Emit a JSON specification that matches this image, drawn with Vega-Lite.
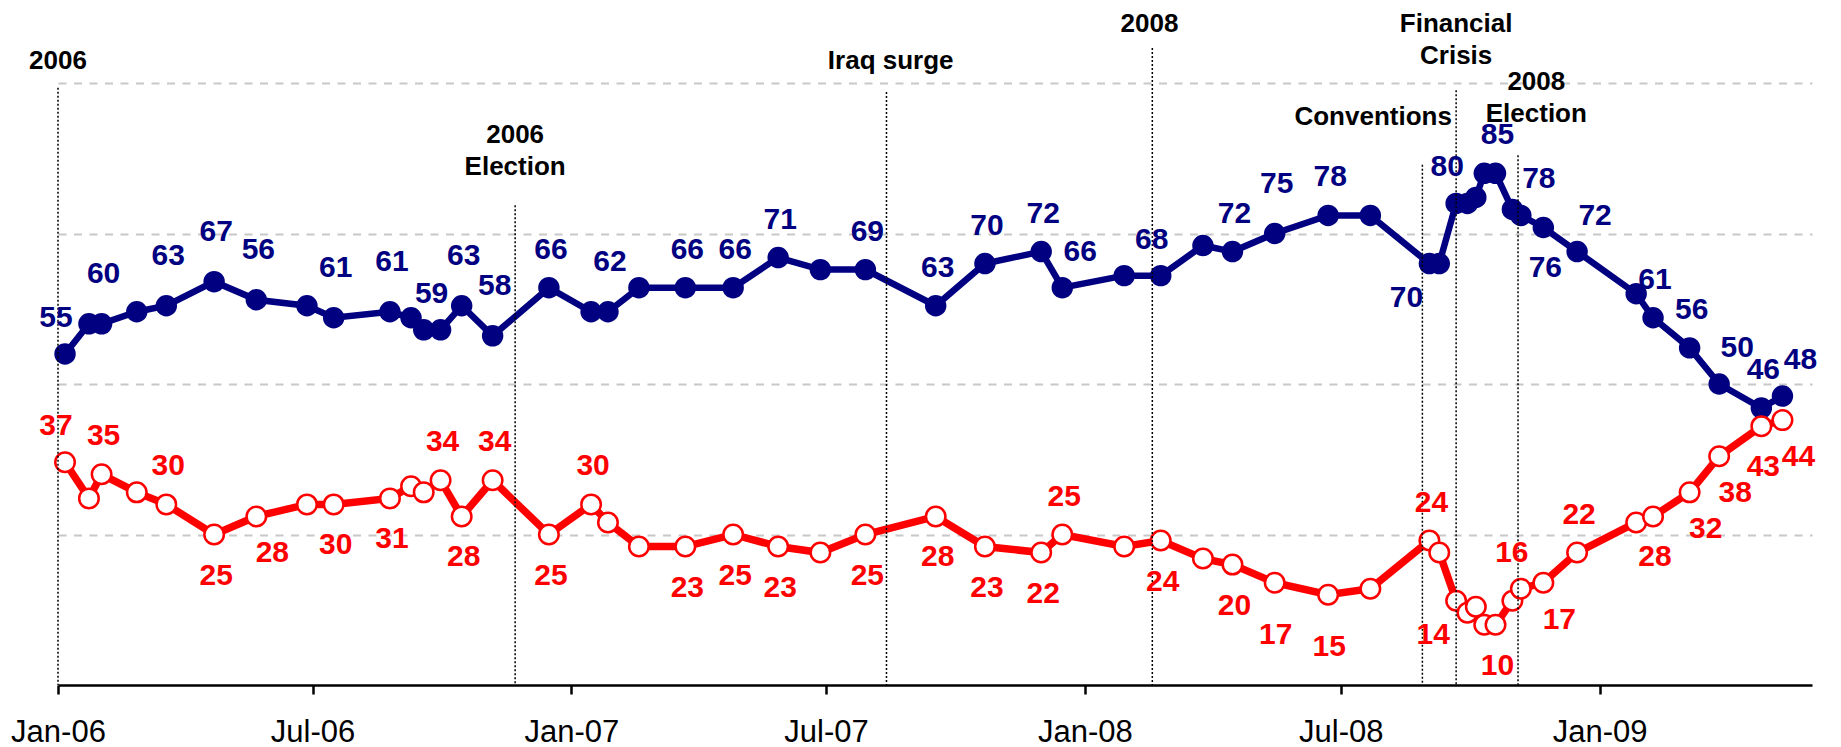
{
  "$schema": "https://vega.github.io/schema/vega-lite/v6.json",
  "width": 1754,
  "height": 602,
  "autosize": {"type": "none"},
  "padding": {"left": 58, "top": 83, "right": 29, "bottom": 62},
  "background": "white",
  "config": {"view": {"stroke": null}, "font": "Liberation Sans"},
  "datasets": {
    "series": [
      {"d": "2006-01-06", "s": "blue", "v": 55, "t": "55", "p": "tl"},
      {"d": "2006-01-23", "s": "blue", "v": 60},
      {"d": "2006-02-01", "s": "blue", "v": 60, "t": "60", "p": "T"},
      {"d": "2006-02-26", "s": "blue", "v": 62},
      {"d": "2006-03-19", "s": "blue", "v": 63, "t": "63", "p": "T"},
      {"d": "2006-04-22", "s": "blue", "v": 67, "t": "67", "p": "T"},
      {"d": "2006-05-22", "s": "blue", "v": 64, "t": "56", "p": "T"},
      {"d": "2006-06-27", "s": "blue", "v": 63},
      {"d": "2006-07-16", "s": "blue", "v": 61, "t": "61", "p": "T"},
      {"d": "2006-08-25", "s": "blue", "v": 62, "t": "61", "p": "T"},
      {"d": "2006-09-09", "s": "blue", "v": 61},
      {"d": "2006-09-18", "s": "blue", "v": 59},
      {"d": "2006-09-30", "s": "blue", "v": 59, "t": "59", "p": "tl"},
      {"d": "2006-10-15", "s": "blue", "v": 63, "t": "63", "p": "T"},
      {"d": "2006-11-06", "s": "blue", "v": 58, "t": "58", "p": "T"},
      {"d": "2006-12-16", "s": "blue", "v": 66, "t": "66", "p": "t"},
      {"d": "2007-01-15", "s": "blue", "v": 62},
      {"d": "2007-01-27", "s": "blue", "v": 62, "t": "62", "p": "T"},
      {"d": "2007-02-18", "s": "blue", "v": 66},
      {"d": "2007-03-23", "s": "blue", "v": 66, "t": "66", "p": "t"},
      {"d": "2007-04-26", "s": "blue", "v": 66, "t": "66", "p": "t"},
      {"d": "2007-05-28", "s": "blue", "v": 71, "t": "71", "p": "t"},
      {"d": "2007-06-27", "s": "blue", "v": 69},
      {"d": "2007-07-29", "s": "blue", "v": 69, "t": "69", "p": "t"},
      {"d": "2007-09-17", "s": "blue", "v": 63, "t": "63", "p": "t"},
      {"d": "2007-10-22", "s": "blue", "v": 70, "t": "70", "p": "t"},
      {"d": "2007-12-01", "s": "blue", "v": 72, "t": "72", "p": "t"},
      {"d": "2007-12-16", "s": "blue", "v": 66, "t": "66", "p": "tr"},
      {"d": "2008-01-29", "s": "blue", "v": 68},
      {"d": "2008-02-24", "s": "blue", "v": 68, "t": "68", "p": "tl"},
      {"d": "2008-03-25", "s": "blue", "v": 73},
      {"d": "2008-04-15", "s": "blue", "v": 72, "t": "72", "p": "t"},
      {"d": "2008-05-15", "s": "blue", "v": 75, "t": "75", "p": "T"},
      {"d": "2008-06-22", "s": "blue", "v": 78, "t": "78", "p": "t"},
      {"d": "2008-07-22", "s": "blue", "v": 78},
      {"d": "2008-09-02", "s": "blue", "v": 70, "t": "70", "p": "bl"},
      {"d": "2008-09-09", "s": "blue", "v": 70},
      {"d": "2008-09-21", "s": "blue", "v": 80, "t": "80", "p": "tl"},
      {"d": "2008-09-29", "s": "blue", "v": 80},
      {"d": "2008-10-05", "s": "blue", "v": 81},
      {"d": "2008-10-11", "s": "blue", "v": 85},
      {"d": "2008-10-19", "s": "blue", "v": 85, "t": "85", "p": "t"},
      {"d": "2008-10-31", "s": "blue", "v": 79},
      {"d": "2008-11-06", "s": "blue", "v": 78, "t": "78", "p": "tr"},
      {"d": "2008-11-22", "s": "blue", "v": 76, "t": "76", "p": "b"},
      {"d": "2008-12-16", "s": "blue", "v": 72, "t": "72", "p": "tr"},
      {"d": "2009-01-27", "s": "blue", "v": 65},
      {"d": "2009-02-08", "s": "blue", "v": 61, "t": "61", "p": "t"},
      {"d": "2009-03-06", "s": "blue", "v": 56, "t": "56", "p": "t"},
      {"d": "2009-03-27", "s": "blue", "v": 50, "t": "50", "p": "tr"},
      {"d": "2009-04-26", "s": "blue", "v": 46, "t": "46", "p": "t"},
      {"d": "2009-05-11", "s": "blue", "v": 48, "t": "48", "p": "tr"},
      {"d": "2006-01-06", "s": "red", "v": 37, "t": "37", "p": "tl"},
      {"d": "2006-01-23", "s": "red", "v": 31},
      {"d": "2006-02-01", "s": "red", "v": 35, "t": "35", "p": "t"},
      {"d": "2006-02-26", "s": "red", "v": 32},
      {"d": "2006-03-19", "s": "red", "v": 30, "t": "30", "p": "t"},
      {"d": "2006-04-22", "s": "red", "v": 25, "t": "25", "p": "b"},
      {"d": "2006-05-22", "s": "red", "v": 28, "t": "28", "p": "br"},
      {"d": "2006-06-27", "s": "red", "v": 30},
      {"d": "2006-07-16", "s": "red", "v": 30, "t": "30", "p": "b"},
      {"d": "2006-08-25", "s": "red", "v": 31, "t": "31", "p": "b"},
      {"d": "2006-09-09", "s": "red", "v": 33},
      {"d": "2006-09-18", "s": "red", "v": 32},
      {"d": "2006-09-30", "s": "red", "v": 34, "t": "34", "p": "t"},
      {"d": "2006-10-15", "s": "red", "v": 28, "t": "28", "p": "b"},
      {"d": "2006-11-06", "s": "red", "v": 34, "t": "34", "p": "t"},
      {"d": "2006-12-16", "s": "red", "v": 25, "t": "25", "p": "b"},
      {"d": "2007-01-15", "s": "red", "v": 30, "t": "30", "p": "t"},
      {"d": "2007-01-27", "s": "red", "v": 27},
      {"d": "2007-02-18", "s": "red", "v": 23},
      {"d": "2007-03-23", "s": "red", "v": 23, "t": "23", "p": "b"},
      {"d": "2007-04-26", "s": "red", "v": 25, "t": "25", "p": "b"},
      {"d": "2007-05-28", "s": "red", "v": 23, "t": "23", "p": "b"},
      {"d": "2007-06-27", "s": "red", "v": 22},
      {"d": "2007-07-29", "s": "red", "v": 25, "t": "25", "p": "b"},
      {"d": "2007-09-17", "s": "red", "v": 28, "t": "28", "p": "b"},
      {"d": "2007-10-22", "s": "red", "v": 23, "t": "23", "p": "b"},
      {"d": "2007-12-01", "s": "red", "v": 22, "t": "22", "p": "b"},
      {"d": "2007-12-16", "s": "red", "v": 25, "t": "25", "p": "t"},
      {"d": "2008-01-29", "s": "red", "v": 23},
      {"d": "2008-02-24", "s": "red", "v": 24, "t": "24", "p": "b"},
      {"d": "2008-03-25", "s": "red", "v": 21},
      {"d": "2008-04-15", "s": "red", "v": 20, "t": "20", "p": "b"},
      {"d": "2008-05-15", "s": "red", "v": 17, "t": "17", "p": "B"},
      {"d": "2008-06-22", "s": "red", "v": 15, "t": "15", "p": "B"},
      {"d": "2008-07-22", "s": "red", "v": 16},
      {"d": "2008-09-02", "s": "red", "v": 24, "t": "24", "p": "t"},
      {"d": "2008-09-09", "s": "red", "v": 22},
      {"d": "2008-09-21", "s": "red", "v": 14, "t": "14", "p": "bl"},
      {"d": "2008-09-29", "s": "red", "v": 12},
      {"d": "2008-10-05", "s": "red", "v": 13},
      {"d": "2008-10-11", "s": "red", "v": 10},
      {"d": "2008-10-19", "s": "red", "v": 10, "t": "10", "p": "b"},
      {"d": "2008-10-31", "s": "red", "v": 14},
      {"d": "2008-11-06", "s": "red", "v": 16, "t": "16", "p": "tl"},
      {"d": "2008-11-22", "s": "red", "v": 17, "t": "17", "p": "br"},
      {"d": "2008-12-16", "s": "red", "v": 22, "t": "22", "p": "t"},
      {"d": "2009-01-27", "s": "red", "v": 27},
      {"d": "2009-02-08", "s": "red", "v": 28, "t": "28", "p": "b"},
      {"d": "2009-03-06", "s": "red", "v": 32, "t": "32", "p": "br"},
      {"d": "2009-03-27", "s": "red", "v": 38, "t": "38", "p": "br"},
      {"d": "2009-04-26", "s": "red", "v": 43, "t": "43", "p": "b"},
      {"d": "2009-05-11", "s": "red", "v": 44, "t": "44", "p": "br"}
    ],
    "events": [
      {"d": "2006-01-01", "v": 99.2},
      {"d": "2006-11-22", "v": 79.7},
      {"d": "2007-08-13", "v": 98.5},
      {"d": "2008-02-18", "v": 105.8},
      {"d": "2008-08-28", "v": 86.4},
      {"d": "2008-09-21", "v": 98.8},
      {"d": "2008-11-04", "v": 88}
    ],
    "notes": [
      {"d": "2006-01-01", "v": 103.7, "txt": "2006"},
      {"d": "2006-11-22", "v": 91.4, "txt": "2006\nElection"},
      {"d": "2007-08-16", "v": 103.6, "txt": "Iraq surge"},
      {"d": "2008-02-16", "v": 109.8, "txt": "2008"},
      {"d": "2008-07-24", "v": 94.4, "txt": "Conventions"},
      {"d": "2008-09-21", "v": 109.8, "txt": "Financial\nCrisis"},
      {"d": "2008-11-17", "v": 100.2, "txt": "2008\nElection"}
    ]
  },
  "encoding": {
    "x": {
      "field": "d",
      "type": "temporal",
      "title": null,
      "scale": {
        "type": "utc",
        "domain": [
          {"year": 2006, "month": 1, "date": 1, "utc": true},
          {"year": 2009, "month": 6, "date": 1, "utc": true}
        ]
      },
      "axis": {
        "values": [
          {"year": 2006, "month": 1, "date": 1, "utc": true},
          {"year": 2006, "month": 7, "date": 1, "utc": true},
          {"year": 2007, "month": 1, "date": 1, "utc": true},
          {"year": 2007, "month": 7, "date": 1, "utc": true},
          {"year": 2008, "month": 1, "date": 1, "utc": true},
          {"year": 2008, "month": 7, "date": 1, "utc": true},
          {"year": 2009, "month": 1, "date": 1, "utc": true}
        ],
        "format": "%b-%y",
        "grid": false,
        "domain": true,
        "domainColor": "black",
        "domainWidth": 2.5,
        "ticks": true,
        "tickColor": "black",
        "tickWidth": 2.5,
        "tickSize": 9,
        "labelFont": "Liberation Sans",
        "labelFontSize": 31,
        "labelColor": "black",
        "labelPadding": 23,
        "labelFlush": false,
        "labelOverlap": false,
        "labelBound": false
      }
    },
    "y": {
      "field": "v",
      "type": "quantitative",
      "title": null,
      "scale": {"domain": [0, 100], "nice": false},
      "axis": {
        "domain": false,
        "ticks": false,
        "labels": false,
        "grid": true,
        "values": [25, 50, 75, 100],
        "gridColor": "#c8c8c8",
        "gridDash": [8, 7.5],
        "gridWidth": 2
      }
    }
  },
  "layer": [
    {
      "data": {"name": "series"},
      "transform": [{"filter": "datum.s == 'blue'"}],
      "mark": {"type": "line", "color": "#000080", "strokeWidth": 6.5, "clip": false},
      "encoding": {}
    },
    {
      "data": {"name": "series"},
      "transform": [{"filter": "datum.s == 'blue'"}],
      "mark": {"type": "point", "shape": "circle", "filled": true, "color": "#000080", "size": 460, "opacity": 1}
    },
    {
      "data": {"name": "series"},
      "transform": [{"filter": "datum.s == 'red'"}],
      "mark": {"type": "line", "color": "#FF0000", "strokeWidth": 7.5},
      "encoding": {}
    },
    {
      "data": {"name": "series"},
      "transform": [{"filter": "datum.s == 'red'"}],
      "mark": {"type": "point", "shape": "circle", "filled": true, "fill": "white", "stroke": "#FF0000", "strokeWidth": 2.5, "size": 380, "opacity": 1}
    },
    {
      "data": {"name": "events"},
      "mark": {"type": "rule", "color": "black", "strokeWidth": 1.5, "strokeDash": [2, 2]},
      "encoding": {"y2": {"datum": 0}}
    },
    {
      "data": {"name": "series"},
      "transform": [{"filter": "datum.p == 't'"}],
      "mark": {"type": "text", "font": "Liberation Sans", "fontWeight": "bold", "fontSize": 30, "align": "center", "baseline": "middle", "dx": 2, "dy": -38},
      "encoding": {"text": {"field": "t"}, "color": {"field": "s", "type": "nominal", "scale": {"domain": ["blue", "red"], "range": ["#000080", "#FF0000"]}, "legend": null}}
    },
    {
      "data": {"name": "series"},
      "transform": [{"filter": "datum.p == 'T'"}],
      "mark": {"type": "text", "font": "Liberation Sans", "fontWeight": "bold", "fontSize": 30, "align": "center", "baseline": "middle", "dx": 2, "dy": -50},
      "encoding": {"text": {"field": "t"}, "color": {"field": "s", "type": "nominal", "scale": {"domain": ["blue", "red"], "range": ["#000080", "#FF0000"]}, "legend": null}}
    },
    {
      "data": {"name": "series"},
      "transform": [{"filter": "datum.p == 'b'"}],
      "mark": {"type": "text", "font": "Liberation Sans", "fontWeight": "bold", "fontSize": 30, "align": "center", "baseline": "middle", "dx": 2, "dy": 41},
      "encoding": {"text": {"field": "t"}, "color": {"field": "s", "type": "nominal", "scale": {"domain": ["blue", "red"], "range": ["#000080", "#FF0000"]}, "legend": null}}
    },
    {
      "data": {"name": "series"},
      "transform": [{"filter": "datum.p == 'B'"}],
      "mark": {"type": "text", "font": "Liberation Sans", "fontWeight": "bold", "fontSize": 30, "align": "center", "baseline": "middle", "dx": 1, "dy": 52},
      "encoding": {"text": {"field": "t"}, "color": {"field": "s", "type": "nominal", "scale": {"domain": ["blue", "red"], "range": ["#000080", "#FF0000"]}, "legend": null}}
    },
    {
      "data": {"name": "series"},
      "transform": [{"filter": "datum.p == 'tl'"}],
      "mark": {"type": "text", "font": "Liberation Sans", "fontWeight": "bold", "fontSize": 30, "align": "center", "baseline": "middle", "dx": -9, "dy": -36},
      "encoding": {"text": {"field": "t"}, "color": {"field": "s", "type": "nominal", "scale": {"domain": ["blue", "red"], "range": ["#000080", "#FF0000"]}, "legend": null}}
    },
    {
      "data": {"name": "series"},
      "transform": [{"filter": "datum.p == 'tr'"}],
      "mark": {"type": "text", "font": "Liberation Sans", "fontWeight": "bold", "fontSize": 30, "align": "center", "baseline": "middle", "dx": 18, "dy": -36},
      "encoding": {"text": {"field": "t"}, "color": {"field": "s", "type": "nominal", "scale": {"domain": ["blue", "red"], "range": ["#000080", "#FF0000"]}, "legend": null}}
    },
    {
      "data": {"name": "series"},
      "transform": [{"filter": "datum.p == 'br'"}],
      "mark": {"type": "text", "font": "Liberation Sans", "fontWeight": "bold", "fontSize": 30, "align": "center", "baseline": "middle", "dx": 16, "dy": 37},
      "encoding": {"text": {"field": "t"}, "color": {"field": "s", "type": "nominal", "scale": {"domain": ["blue", "red"], "range": ["#000080", "#FF0000"]}, "legend": null}}
    },
    {
      "data": {"name": "series"},
      "transform": [{"filter": "datum.p == 'bl'"}],
      "mark": {"type": "text", "font": "Liberation Sans", "fontWeight": "bold", "fontSize": 30, "align": "center", "baseline": "middle", "dx": -23, "dy": 34},
      "encoding": {"text": {"field": "t"}, "color": {"field": "s", "type": "nominal", "scale": {"domain": ["blue", "red"], "range": ["#000080", "#FF0000"]}, "legend": null}}
    },
    {
      "data": {"name": "notes"},
      "mark": {"type": "text", "font": "Liberation Sans", "fontWeight": "bold", "fontSize": 26, "color": "black", "align": "center", "baseline": "middle", "lineBreak": "\n", "lineHeight": 32},
      "encoding": {"text": {"field": "txt"}}
    }
  ]
}
